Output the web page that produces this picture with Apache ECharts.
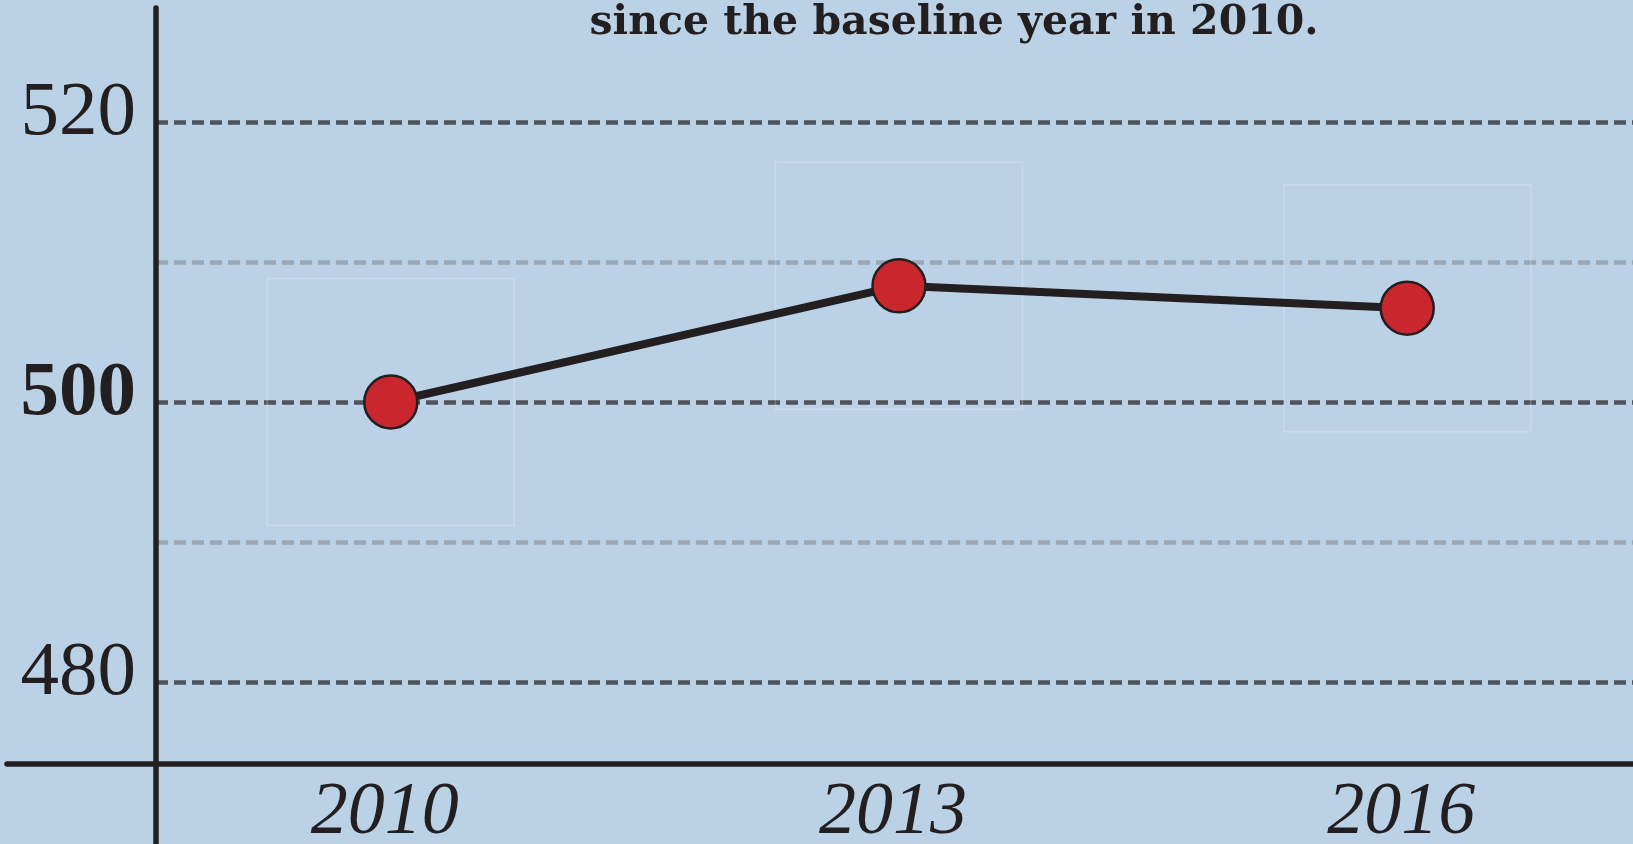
<!DOCTYPE html>
<html>
<head>
<meta charset="utf-8">
<script src="https://cdn.jsdelivr.net/npm/echarts@6/dist/echarts.min.js"></script>
<style>
  html, body { margin: 0; padding: 0; background: #bad1e6; }
  #chart { width: 1633px; height: 844px; }
</style>
</head>
<body>
<div id="chart"></div>
<script>
// ---- data ----
const years = [2010, 2013, 2016];
const scores = [500, 508.3, 506.7];
const yTickLabels = { 520: 'n', 500: 'b', 480: 'n' };
const titleText = 'since the baseline year in 2010.';

const INK = '#231f20';
const DARK = '#50535b';
const LIGHT = '#9aa6b2';
const SERIF = '"Liberation Serif", "Times New Roman", serif';

const points = years.map((y, i) => [y, scores[i]]);

const chart = echarts.init(document.getElementById('chart'));
chart.setOption({
  backgroundColor: '#bad1e6',
  animation: false,
  title: {
    text: titleText,
    left: 954,
    textAlign: 'center',
    top: 3,
    padding: 0,
    textStyle: { fontFamily: '"DejaVu Serif", serif', fontWeight: 'bold', fontSize: 41, color: INK }
  },
  grid: [
    { left: 156, right: 0, top: 0, bottom: 22, outerBoundsMode: 'none', containLabel: false },  // data grid
    { left: 156, right: 0, top: 8, bottom: 0, outerBoundsMode: 'none', containLabel: false },   // vertical axis line
    { left: 7, right: 0, top: 8, bottom: 80, outerBoundsMode: 'none', containLabel: false }     // horizontal axis line
  ],
  xAxis: [
    {
      gridIndex: 0, type: 'value', min: 2008.614, max: 2017.333,
      offset: -58,
      axisLine: { show: false }, axisTick: { show: false }, splitLine: { show: false },
      axisLabel: {
        customValues: years,
        margin: 13,
        padding: [0, 12, 0, 0],
        formatter: v => String(v),
        fontFamily: SERIF, fontStyle: 'italic', fontSize: 74, color: INK
      }
    },
    { gridIndex: 1, type: 'value', min: 0, max: 1, show: false },
    {
      gridIndex: 2, type: 'value', min: 0, max: 1,
      axisLine: { show: true, onZero: false, lineStyle: { color: INK, width: 5.5 } },
      axisTick: { show: false }, axisLabel: { show: false }, splitLine: { show: false }
    }
  ],
  yAxis: [
    {
      gridIndex: 0, type: 'value', min: 470, max: 528.714, interval: 10,
      axisLine: { show: false }, axisTick: { show: false },
      splitLine: {
        show: true,
        lineStyle: {
          width: 4.5, type: [12, 6],
          color: ['rgba(0,0,0,0)', DARK, LIGHT, DARK, LIGHT, DARK, 'rgba(0,0,0,0)']
        }
      },
      axisLabel: {
        margin: 20,
        padding: [0, 0, 16, 0],
        formatter: v => yTickLabels[v] ? '{' + yTickLabels[v] + '|' + v + '}' : '',
        rich: {
          n: { fontFamily: SERIF, fontSize: 77, color: INK },
          b: { fontFamily: SERIF, fontSize: 77, fontWeight: 'bold', color: INK }
        }
      }
    },
    {
      gridIndex: 1, type: 'value', min: 0, max: 1,
      axisLine: { show: true, onZero: false, lineStyle: { color: INK, width: 5.5 } },
      axisTick: { show: false }, axisLabel: { show: false }, splitLine: { show: false }
    },
    { gridIndex: 2, type: 'value', min: 0, max: 1, show: false }
  ],
  series: [
    {
      type: 'scatter', xAxisIndex: 0, yAxisIndex: 0, silent: true, z: 1,
      symbol: 'rect', symbolSize: 247,
      itemStyle: { color: 'rgba(0,0,0,0)', borderColor: 'rgba(255,255,255,0.28)', borderWidth: 1.5 },
      data: points
    },
    {
      type: 'line', xAxisIndex: 0, yAxisIndex: 0, z: 3,
      data: points,
      symbol: 'circle', symbolSize: 53, showAllSymbol: true,
      lineStyle: { color: INK, width: 8 },
      itemStyle: { color: '#c9272d', borderColor: INK, borderWidth: 2.5, opacity: 1 }
    }
  ]
});
</script>
</body>
</html>
